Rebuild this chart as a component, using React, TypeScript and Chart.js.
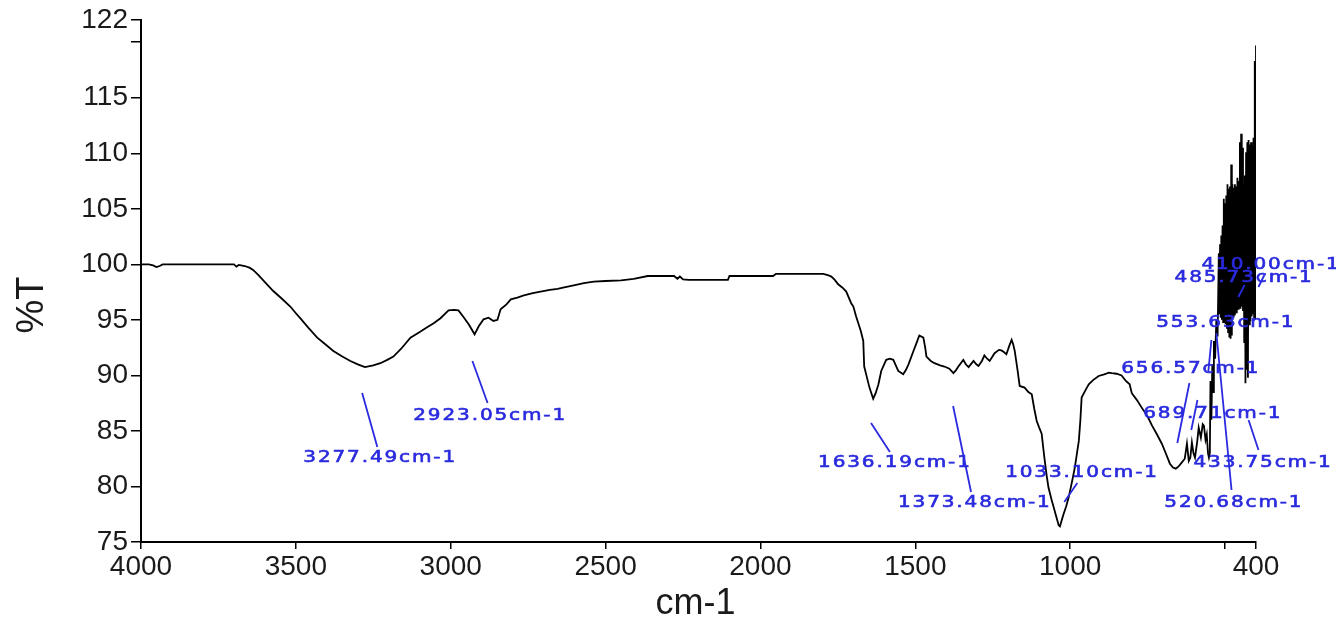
import React, { useEffect, useRef } from 'react';
import { Chart, registerables } from 'chart.js';

Chart.register(...registerables);

// ---- Spectrum data (wavenumber in cm-1, transmittance in %T) ----
const WAVENUMBER = [
  4000, 3975, 3961, 3950, 3940, 3930, 3850, 3760, 3700, 3692, 3684, 3665, 3650, 3638, 3620, 3600,
  3573, 3545, 3518, 3500, 3486, 3460, 3431, 3405, 3379, 3350, 3324, 3300, 3277, 3250, 3227, 3205,
  3185, 3160, 3130, 3100, 3075, 3055, 3033, 3007, 2990, 2975, 2960, 2942, 2923, 2910, 2894, 2878,
  2862, 2849, 2839, 2820, 2806, 2785, 2764, 2735, 2710, 2680, 2655, 2630, 2603, 2570, 2538, 2500,
  2450, 2409, 2364, 2300, 2279, 2268, 2260, 2250, 2231, 2180, 2105, 2100, 2000, 1959, 1950, 1850,
  1797, 1780, 1771, 1760, 1749, 1735, 1723, 1707, 1700, 1691, 1684, 1676, 1668, 1665, 1656, 1648,
  1636, 1628, 1619, 1610, 1602, 1594, 1582, 1571, 1563, 1555, 1539, 1530, 1522, 1506, 1495, 1487,
  1474, 1468, 1464, 1450, 1438, 1420, 1406, 1390, 1377, 1368, 1361, 1345, 1337, 1328, 1312, 1303,
  1296, 1285, 1277, 1268, 1260, 1244, 1230, 1222, 1214, 1206, 1196, 1189, 1184, 1179, 1170, 1163,
  1147, 1135, 1124, 1116, 1108, 1100, 1092, 1087, 1082, 1076, 1070, 1060, 1053, 1045, 1037, 1033,
  1028, 1021, 1013, 1005, 995, 985, 978, 972, 967, 963, 950, 940, 925, 908, 890, 875,
  866, 850, 834, 820, 808, 801, 785, 769, 750, 736, 720, 704, 690, 678, 668, 659,
  650, 640, 630, 623, 617, 612, 607, 602, 597, 590, 585, 578, 572, 568, 563, 559,
  555, 552, 549, 547, 544, 541, 538, 536, 532, 528, 524,
  520, 518, 516, 514, 512, 510, 508, 506, 504, 502, 500, 498, 496, 494, 492, 490,
  488, 486, 484, 482, 480, 478, 476, 474, 472, 470, 468, 466, 464, 462, 460, 458,
  456, 454, 452, 450, 448, 446, 444, 442, 440, 438, 436, 434, 432, 430, 428, 426,
  424, 422, 420, 418, 416, 414, 412, 410, 408, 406, 404, 402, 400,
];

const TRANSMITTANCE = [
  100.0, 100.0, 99.9, 99.75, 99.85, 100.0, 100.0, 100.0, 100.0, 99.8, 99.95, 99.85, 99.7, 99.5, 99.0, 98.4,
  97.6, 96.9, 96.2, 95.6, 95.15, 94.3, 93.4, 92.8, 92.2, 91.7, 91.3, 91.0, 90.75, 90.9, 91.1, 91.4,
  91.7, 92.4, 93.4, 93.9, 94.35, 94.7, 95.15, 95.85, 95.9, 95.85, 95.3, 94.6, 93.7, 94.4, 95.05, 95.2,
  94.9, 95.0, 95.95, 96.4, 96.85, 97.0, 97.2, 97.4, 97.55, 97.7, 97.8, 97.95, 98.1, 98.3, 98.45, 98.5,
  98.55, 98.7, 98.95, 98.95, 98.95, 98.7, 98.9, 98.65, 98.6, 98.6, 98.6, 98.95, 98.95, 98.95, 99.15, 99.15,
  99.15, 99.0, 98.9, 98.6, 98.2, 97.9, 97.55, 96.5, 96.2, 95.3, 94.7, 94.0, 93.1, 90.8, 89.8, 88.9,
  87.9, 88.4, 89.2, 90.4, 90.9, 91.4, 91.5, 91.4, 90.9, 90.4, 90.1, 90.5, 91.0, 92.2, 93.0, 93.6,
  93.4, 92.5, 91.7, 91.3, 91.1, 90.9, 90.8, 90.6, 90.2, 90.5, 90.8, 91.4, 91.0, 90.75, 91.3, 91.0,
  90.85, 91.3, 91.8, 91.5, 91.3, 92.0, 92.3, 92.25, 92.1, 91.9, 92.7, 93.2, 92.8, 92.2, 90.5, 89.05,
  88.9, 88.5, 88.3, 87.0, 85.9, 85.3, 84.75, 83.5, 82.3, 81.0, 79.9, 78.8, 78.1, 77.3, 76.5, 76.4,
  76.9, 77.55, 78.2, 79.0, 80.3, 81.7, 83.0, 84.1, 86.0, 88.0, 88.7, 89.2, 89.6, 89.95, 90.1, 90.25,
  90.2, 90.15, 90.0, 89.5, 89.2, 88.4, 87.8, 87.1, 86.3, 85.5, 84.7, 83.85, 82.9, 82.05, 81.7, 81.6,
  81.8, 82.15, 82.5, 83.85, 82.3, 82.6, 83.95, 83.0, 82.6, 84.0, 85.3, 84.4, 85.6, 85.45, 84.2, 84.7,
  83.0, 82.6, 83.0, 89.5, 86.0, 91.0, 88.5, 93.1, 91.5, 95.0, 93.5,
  101.0, 95.5, 101.8, 95.2, 102.6, 95.0, 103.5, 94.8, 105.9, 95.0, 105.5, 94.6, 106.2, 94.2, 107.2, 93.9,
  106.8, 93.5, 107.0, 93.3, 109.0, 93.6, 107.2, 95.3, 106.9, 95.5, 107.2, 95.8, 107.0, 95.6, 107.8, 96.0,
  107.5, 96.1, 111.0, 96.0, 111.75, 96.2, 110.5, 95.8, 107.2, 93.0, 108.0, 89.3, 110.1, 90.5, 111.0, 89.8,
  111.2, 94.6, 110.8, 94.9, 111.0, 95.3, 110.5, 95.5, 111.4, 95.2, 118.3, 95.0, 119.7,
];

// ---- Axes ----
const X_TICKS = [4000, 3500, 3000, 2500, 2000, 1500, 1000, 500, 400];
const X_TICK_LABELS = ['4000', '3500', '3000', '2500', '2000', '1500', '1000', '', '400'];
const Y_TICKS = [75, 80, 85, 90, 95, 100, 105, 110, 115, 120, 122];
const Y_TICK_LABELS = ['75', '80', '85', '90', '95', '100', '105', '110', '115', '', '122'];
const X_TITLE = 'cm-1';
const Y_TITLE = '%T';

// ---- Peak annotations (data units) ----
const PEAK_LABELS = [
  '3277.49cm-1', '2923.05cm-1', '1636.19cm-1', '1373.48cm-1', '1033.10cm-1', '656.57cm-1',
  '689.71cm-1', '553.63cm-1', '485.73cm-1', '410.00cm-1', '433.75cm-1', '520.68cm-1',
];
const PEAK_LABEL_X = [3476, 3121, 1814, 1556, 1210, 835, 764, 722, 663, 576, 602, 696];
const PEAK_LABEL_Y = [82.56, 86.35, 82.11, 78.51, 81.21, 90.58, 86.53, 94.72, 98.77, 99.94, 82.11, 78.51];
const LEADER_X1 = [3286, 2930, 1643, 1378, 1019, 615, 589, 544, 437, 373, 424, 528];
const LEADER_Y1 = [88.42, 91.3, 85.72, 87.25, 78.6, 89.32, 87.79, 93.19, 98.14, 99.04, 85.99, 93.82];
const LEADER_X2 = [3237, 2881, 1582, 1320, 977, 654, 609, 554, 457, 392, 392, 479];
const LEADER_Y2 = [83.55, 87.52, 83.1, 79.5, 80.31, 83.91, 85.08, 90.31, 97.06, 97.96, 83.28, 79.68];

const BLUE = '#2a2ade';
const INK = '#1a1a1a';
const AXIS_FONT = "'Liberation Sans Narrow', 'Liberation Sans', Arial, sans-serif";

const peakPlugin = {
  id: 'peakAnnotations',
  afterDatasetsDraw(chart: any) {
    const { ctx, scales, chartArea } = chart;
    const xs = scales.x;
    const ys = scales.y;
    ctx.save();
    ctx.strokeStyle = BLUE;
    ctx.lineWidth = 1.8;
    for (let i = 0; i < PEAK_LABELS.length; i++) {
      ctx.beginPath();
      ctx.moveTo(xs.getPixelForValue(LEADER_X1[i]), ys.getPixelForValue(LEADER_Y1[i]));
      ctx.lineTo(xs.getPixelForValue(LEADER_X2[i]), ys.getPixelForValue(LEADER_Y2[i]));
      ctx.stroke();
    }
    ctx.fillStyle = BLUE;
    ctx.strokeStyle = BLUE;
    ctx.lineWidth = 0.6;
    ctx.font = "16px 'DejaVu Sans'";
    ctx.textBaseline = 'middle';
    ctx.textAlign = 'left';
    try { (ctx as any).letterSpacing = '1.5px'; } catch (e) {}
    for (let i = 0; i < PEAK_LABELS.length; i++) {
      const px = xs.getPixelForValue(PEAK_LABEL_X[i]);
      const py = ys.getPixelForValue(PEAK_LABEL_Y[i]);
      ctx.save();
      ctx.translate(px, py);
      ctx.scale(1.25, 1);
      ctx.fillText(PEAK_LABELS[i], 0, 0);
      ctx.strokeText(PEAK_LABELS[i], 0, 0);
      ctx.restore();
    }
    try { (ctx as any).letterSpacing = '0px'; } catch (e) {}

    // Axis titles
    ctx.fillStyle = INK;
    ctx.textBaseline = 'alphabetic';
    ctx.textAlign = 'center';
    ctx.font = `36px ${AXIS_FONT}`;
    ctx.fillText(X_TITLE, (chartArea.left + chartArea.right) / 2 - 3, chart.height - 4);

    ctx.save();
    ctx.font = `38px ${AXIS_FONT}`;
    ctx.translate(43, (chartArea.top + chartArea.bottom) / 2 + 24);
    ctx.rotate(-Math.PI / 2);
    ctx.fillText(Y_TITLE, 0, 0);
    ctx.restore();

    ctx.restore();
  },
};

export default function App() {
  const canvasRef = useRef<HTMLCanvasElement | null>(null);

  useEffect(() => {
    const canvas = canvasRef.current;
    if (!canvas) return;
    const points = WAVENUMBER.map((w, i) => ({ x: w, y: TRANSMITTANCE[i] }));
    const chart = new Chart(canvas, {
      type: 'line',
      data: {
        datasets: [
          {
            data: points,
            borderColor: '#000',
            borderWidth: 1.8,
            pointRadius: 0,
            tension: 0,
            fill: false,
          },
        ],
      },
      options: {
        animation: false,
        responsive: true,
        maintainAspectRatio: false,
        devicePixelRatio: 1,
        parsing: false,
        normalized: true,
        events: [],
        layout: { padding: { top: 20, right: 80, bottom: 0, left: 0 } },
        plugins: {
          legend: { display: false },
          tooltip: { enabled: false },
          title: { display: false },
        },
        scales: {
          x: {
            type: 'linear',
            reverse: true,
            min: 400,
            max: 4000,
            afterBuildTicks: (scale: any) => {
              scale.ticks = X_TICKS.map((v) => ({ value: v }));
            },
            afterFit: (scale: any) => {
              scale.height = 76;
            },
            ticks: {
              autoSkip: false,
              maxRotation: 0,
              minRotation: 0,
              padding: 1,
              color: INK,
              font: { family: AXIS_FONT, size: 28 },
              callback: (_v: any, index: number) => X_TICK_LABELS[index],
            },
            grid: {
              display: true,
              drawOnChartArea: false,
              drawTicks: true,
              tickLength: 7,
              color: '#000',
              lineWidth: 1.5,
            },
            border: { display: true, color: '#000', width: 2 },
          },
          y: {
            type: 'linear',
            min: 75,
            max: 122,
            afterBuildTicks: (scale: any) => {
              scale.ticks = Y_TICKS.map((v) => ({ value: v }));
            },
            afterFit: (scale: any) => {
              scale.width = 141;
            },
            ticks: {
              autoSkip: false,
              padding: 3,
              color: INK,
              font: { family: AXIS_FONT, size: 28 },
              callback: (_v: any, index: number) => Y_TICK_LABELS[index],
            },
            grid: {
              display: true,
              drawOnChartArea: false,
              drawTicks: true,
              tickLength: 10,
              color: '#000',
              lineWidth: 1.5,
            },
            border: { display: true, color: '#000', width: 2 },
          },
        },
      },
      plugins: [peakPlugin],
    });
    return () => {
      chart.destroy();
    };
  }, []);

  return (
    <div
      style={{
        position: 'fixed',
        left: 0,
        top: 0,
        width: '1336px',
        height: '618px',
        background: '#fff',
      }}
    >
      <canvas ref={canvasRef} />
    </div>
  );
}
